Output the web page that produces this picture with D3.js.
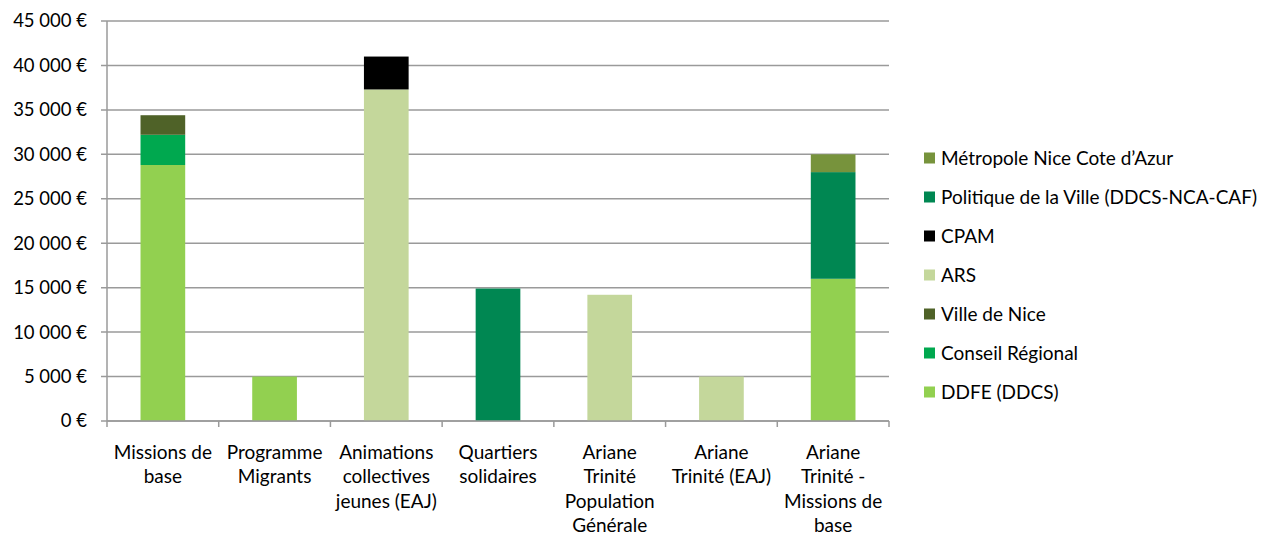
<!DOCTYPE html>
<html><head><meta charset="utf-8">
<script src="https://cdn.jsdelivr.net/npm/d3@7"></script>
<style>body{margin:0;background:#fff}svg{display:block}text{font-family:Lato,"Open Sans",sans-serif;fill:#000}</style>
</head><body><svg id="c" width="1263" height="537"></svg>
<script>
const categories = [
  ["Missions de","base"],
  ["Programme","Migrants"],
  ["Animations","collectives","jeunes (EAJ)"],
  ["Quartiers","solidaires"],
  ["Ariane","Trinité","Population","Générale"],
  ["Ariane","Trinité (EAJ)"],
  ["Ariane","Trinité -","Missions de","base"]
];
const seriesNames = ["DDFE (DDCS)","Conseil Régional","Ville de Nice","ARS","CPAM","Politique de la Ville (DDCS-NCA-CAF)","Métropole Nice Cote d’Azur"];
const seriesColors = ["#92D050","#00A84F","#4F6228","#C4D79B","#000000","#008752","#77933C"];
const ddfe      = [28800, 5000, 0, 0, 0, 0, 16000];
const conseil   = [3400, 0, 0, 0, 0, 0, 0];
const villeNice = [2200, 0, 0, 0, 0, 0, 0];
const ars       = [0, 0, 37300, 0, 14200, 5000, 0];
const cpam      = [0, 0, 3700, 0, 0, 0, 0];
const politique = [0, 0, 0, 14900, 0, 0, 12000];
const metropole = [0, 0, 0, 0, 0, 0, 2000];
const yTicks = [0,5000,10000,15000,20000,25000,30000,35000,40000,45000];

const seriesVals = [ddfe, conseil, villeNice, ars, cpam, politique, metropole];
const keys = seriesNames;
const rows = categories.map((c,i)=>{const o={i}; keys.forEach((k,j)=>o[k]=seriesVals[j][i]); return o;});
const stack = d3.stack().keys(keys)(rows);

const svg = d3.select("#c");
const L=107, R=889, T=21, B=421;
const x = d3.scaleBand().domain(d3.range(categories.length)).range([L,R]).paddingInner(0.6).paddingOuter(0.3);
const xb = d3.scaleBand().domain(d3.range(categories.length)).range([L,R]);
const y = d3.scaleLinear().domain([0,45000]).range([B,T]);
const fmt = v => (v===0?"0":d3.format(",")(v).replace(/,/g," ")) + " €";

svg.append("g").selectAll("line").data(yTicks).join("line")
  .attr("x1",L-6).attr("x2",R).attr("y1",d=>y(d)).attr("y2",d=>y(d))
  .attr("stroke","#9a9a9a").attr("stroke-width",1.5);
svg.append("g").selectAll("text").data(yTicks).join("text")
  .attr("x",87).attr("y",d=>y(d)).attr("dy","0.35em").attr("text-anchor","end")
  .attr("font-size",18.5).text(fmt);

svg.append("g").selectAll("g").data(stack).join("g")
  .attr("fill",(d,i)=>seriesColors[i])
  .selectAll("rect").data(d=>d.filter(s=>s[1]-s[0]>0)).join("rect")
  .attr("x",d=>x(d.data.i)).attr("width",x.bandwidth())
  .attr("y",d=>y(d[1])).attr("height",d=>y(d[0])-y(d[1]));

svg.append("line").attr("x1",L).attr("x2",L).attr("y1",T).attr("y2",B).attr("stroke","#9a9a9a").attr("stroke-width",1.5);
svg.append("line").attr("x1",L).attr("x2",R).attr("y1",B).attr("y2",B).attr("stroke","#9a9a9a").attr("stroke-width",1.5);
const cticks = d3.range(categories.length+1).map(i=> i<categories.length? xb(i) : R);
svg.append("g").selectAll("line").data(cticks).join("line")
  .attr("x1",d=>d).attr("x2",d=>d).attr("y1",B).attr("y2",B+6)
  .attr("stroke","#9a9a9a").attr("stroke-width",1.5);

const xl = svg.append("g").selectAll("text").data(categories).join("text")
  .attr("text-anchor","middle").attr("font-size",19)
  .attr("transform",(d,i)=>`translate(${xb(i)+xb.bandwidth()/2},${452})`);
xl.selectAll("tspan").data(d=>d).join("tspan")
  .attr("x",0).attr("dy",(d,j)=>j===0?"0.35em":"24.5").text(d=>d);

const leg = svg.append("g").selectAll("g").data(seriesNames.map((n,i)=>({n,c:seriesColors[i]})).reverse()).join("g")
  .attr("transform",(d,i)=>`translate(924,${158+i*39})`);
leg.append("rect").attr("x",0).attr("y",-5.5).attr("width",11).attr("height",11).attr("fill",d=>d.c);
leg.append("text").attr("x",17).attr("dy","0.35em").attr("font-size",19).text(d=>d.n);
</script></body></html>
